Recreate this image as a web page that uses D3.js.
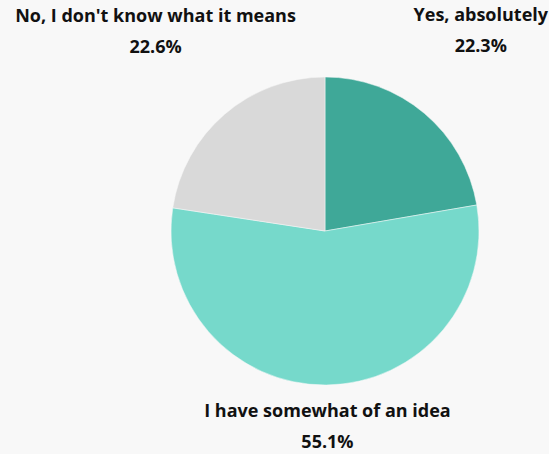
<!DOCTYPE html>
<html>
<head>
<meta charset="utf-8">
<script src="https://cdn.jsdelivr.net/npm/d3@7/dist/d3.min.js"></script>
<style>
  html, body { margin: 0; padding: 0; background: #f8f8f8; }
  svg { display: block; }
  .lbl { font-family: "Open Sans", Lato, sans-serif; font-weight: 700; font-size: 18px; fill: #111; }
</style>
</head>
<body>
<svg id="chart"></svg>
<script>
// Survey answers, in clockwise order starting at 12 o'clock
const categories = ["Yes, absolutely", "I have somewhat of an idea", "No, I don't know what it means"];
const values = [22.3, 55.1, 22.6];
const colors = ["#3fa898", "#76d9cb", "#d9d9d9"];

const width = 549, height = 454;
const cx = 325, cy = 231, radius = 154;
const labelRadius = 260;
const lineGap = 31;

const svg = d3.select("#chart").attr("width", width).attr("height", height);

const data = categories.map((c, i) => ({ name: c, value: values[i], color: colors[i] }));

const pie = d3.pie().sort(null).value(d => d.value);
const arc = d3.arc().innerRadius(0).outerRadius(radius);
const arcs = pie(data);

const g = svg.append("g").attr("transform", `translate(${cx},${cy})`);

g.selectAll("path")
  .data(arcs)
  .join("path")
  .attr("d", arc)
  .attr("fill", d => d.data.color)
  .attr("stroke", "#f8f8f8")
  .attr("stroke-width", 0.5);

// Labels sit outside each slice along its mid-angle, kept inside the frame
const labels = svg.selectAll("g.label")
  .data(arcs)
  .join("g")
  .attr("class", "label");

labels.each(function(d) {
  const grp = d3.select(this);
  const t1 = grp.append("text").attr("class", "lbl").attr("text-anchor", "middle").text(d.data.name);
  const t2 = grp.append("text").attr("class", "lbl").attr("text-anchor", "middle").attr("dy", lineGap)
    .text(d3.format(".1f")(d.data.value) + "%");
  const w = Math.max(t1.node().getComputedTextLength(), t2.node().getComputedTextLength());
  const mid = (d.startAngle + d.endAngle) / 2;
  let x = cx + labelRadius * Math.sin(mid);
  let yc = cy - labelRadius * Math.cos(mid);
  x = Math.max(w / 2 + 1, Math.min(width - w / 2 - 1, x));
  let top = yc - 25, bottom = yc + 25;
  if (top < 8) yc += 8 - top;
  if (bottom > height) yc -= bottom - height;
  grp.attr("transform", `translate(${x},${yc - 12})`);
});
</script>
</body>
</html>
